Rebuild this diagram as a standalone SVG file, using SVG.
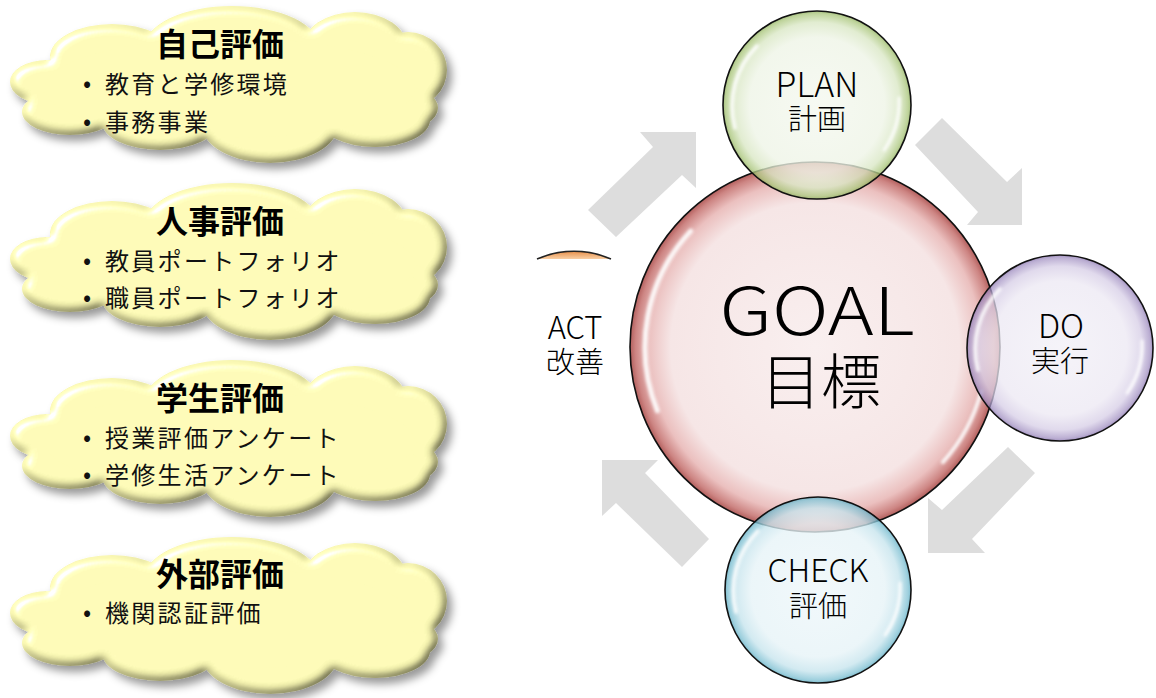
<svg xmlns="http://www.w3.org/2000/svg" xmlns:xlink="http://www.w3.org/1999/xlink" width="1156" height="698" viewBox="0 0 1156 698">
<style>
.ct{font-family:"Noto Sans CJK JP","Noto Sans",sans-serif;font-weight:bold;font-size:32px;fill:#000;text-anchor:middle}
.cb{font-family:"Noto Sans CJK JP","Noto Sans",sans-serif;font-size:24px;fill:#111;letter-spacing:2.3px}
.bu{font-family:"Noto Sans CJK JP","Noto Sans",sans-serif;font-size:24px;fill:#111}
.nt{font-family:"Noto Sans CJK JP","Noto Sans",sans-serif;font-weight:300;fill:#000;text-anchor:middle}
.arrow{fill:#dddddd}
.rim{fill:none;stroke:#111;stroke-width:1.6}
.hl{fill:none;stroke:#fff;stroke-linecap:round;filter:url(#soft)}
</style>
<defs>
<g id="cloudShape" fill="#f9f7b2">
<ellipse cx="47" cy="82" rx="37" ry="22"/>
<ellipse cx="70" cy="112" rx="48" ry="23"/>
<ellipse cx="112" cy="57" rx="62" ry="33"/>
<ellipse cx="232" cy="48" rx="88" ry="42"/>
<ellipse cx="355" cy="47" rx="52" ry="35"/>
<ellipse cx="408" cy="70" rx="39" ry="38"/>
<ellipse cx="400" cy="108" rx="38" ry="22"/>
<ellipse cx="375" cy="120" rx="55" ry="27"/>
<ellipse cx="270" cy="125" rx="68" ry="38"/>
<ellipse cx="160" cy="122" rx="58" ry="28"/>
<ellipse cx="230" cy="88" rx="185" ry="50"/>
</g>
<filter id="cloudFx" x="-8%" y="-12%" width="120%" height="135%">
<feGaussianBlur in="SourceAlpha" stdDeviation="4" result="b"/>
<feDiffuseLighting in="b" surfaceScale="6" diffuseConstant="1.16" lighting-color="#ffffff" result="d"><feDistantLight azimuth="225" elevation="60"/></feDiffuseLighting>
<feComposite in="SourceGraphic" in2="d" operator="arithmetic" k1="1" result="shaded"/>
<feSpecularLighting in="b" surfaceScale="6" specularConstant="1" specularExponent="30" lighting-color="#ffffff" result="s"><feDistantLight azimuth="225" elevation="40"/></feSpecularLighting>
<feComposite in="s" in2="SourceAlpha" operator="in" result="s2"/>
<feComposite in="shaded" in2="s2" operator="arithmetic" k2="1" k3="0.8" result="lit"/>
<feGaussianBlur in="SourceAlpha" stdDeviation="4" result="sb"/>
<feOffset in="sb" dx="5" dy="6" result="so"/>
<feFlood flood-color="#000" flood-opacity="0.4"/>
<feComposite in2="so" operator="in" result="shadow"/>
<feMerge><feMergeNode in="shadow"/><feMergeNode in="lit"/></feMerge>
</filter>
<filter id="soft" x="-20%" y="-20%" width="140%" height="140%"><feGaussianBlur stdDeviation="1.6"/></filter>
<radialGradient id="gGoal" cx="50%" cy="50%" r="50%">
<stop offset="0" stop-color="#f9efef"/><stop offset="0.78" stop-color="#f6e6e6"/><stop offset="0.9" stop-color="#ebc0bf"/><stop offset="0.97" stop-color="#cd8583"/><stop offset="1" stop-color="#b35f5d"/>
</radialGradient>
<radialGradient id="gPlan" cx="50%" cy="50%" r="50%">
<stop offset="0" stop-color="#f4f8ef"/><stop offset="0.72" stop-color="#eef4e6"/><stop offset="0.88" stop-color="#d9e7c4"/><stop offset="0.97" stop-color="#adc880"/><stop offset="1" stop-color="#8eae5c"/>
</radialGradient>
<radialGradient id="gDo" cx="50%" cy="50%" r="50%">
<stop offset="0" stop-color="#f2f0f7"/><stop offset="0.72" stop-color="#ece8f3"/><stop offset="0.88" stop-color="#d6cde6"/><stop offset="0.97" stop-color="#a594c4"/><stop offset="1" stop-color="#8670ad"/>
</radialGradient>
<radialGradient id="gCheck" cx="50%" cy="50%" r="50%">
<stop offset="0" stop-color="#eef7fa"/><stop offset="0.72" stop-color="#e6f3f7"/><stop offset="0.88" stop-color="#c6e4ed"/><stop offset="0.97" stop-color="#82c2d4"/><stop offset="1" stop-color="#5aaac0"/>
</radialGradient>
<linearGradient id="gAct" x1="0" y1="0" x2="0" y2="1">
<stop offset="0" stop-color="#e8904a"/><stop offset="1" stop-color="#f9cfa4"/>
</linearGradient>
</defs>

<g id="connectors">
<polygon class="arrow" points="588,210 653,147 640,132 696,132 696,188 682,175 616,237"/>
<polygon class="arrow" points="915,145 942,118 1007,182 1022,168 1022,225 967,225 978,212"/>
<polygon class="arrow" points="1008,447 1035,473 972,539 985,553 928,553 928,498 942,510"/>
<polygon class="arrow" points="602,460 658,460 645,473 709,539 682,567 616,503 602,516"/>
</g>

<g id="cloud-self">
<use href="#cloudShape" xlink:href="#cloudShape" filter="url(#cloudFx)"/>
<text class="ct" x="220" y="56">自己評価</text>
<text class="bu" x="83" y="92">•</text>
<text class="cb" x="105" y="93">教育と学修環境</text>
<text class="bu" x="83" y="130">•</text>
<text class="cb" x="105" y="131">事務事業</text>
</g>
<g id="cloud-hr">
<use href="#cloudShape" xlink:href="#cloudShape" transform="translate(0,177)" filter="url(#cloudFx)"/>
<text class="ct" x="220" y="233">人事評価</text>
<text class="bu" x="83" y="269">•</text>
<text class="cb" x="105" y="270">教員ポートフォリオ</text>
<text class="bu" x="83" y="306">•</text>
<text class="cb" x="105" y="307">職員ポートフォリオ</text>
</g>
<g id="cloud-student">
<use href="#cloudShape" xlink:href="#cloudShape" transform="translate(0,354)" filter="url(#cloudFx)"/>
<text class="ct" x="220" y="410">学生評価</text>
<text class="bu" x="83" y="446">•</text>
<text class="cb" x="105" y="447">授業評価アンケート</text>
<text class="bu" x="83" y="483">•</text>
<text class="cb" x="105" y="484">学修生活アンケート</text>
</g>
<g id="cloud-external">
<use href="#cloudShape" xlink:href="#cloudShape" transform="translate(0,531)" filter="url(#cloudFx)"/>
<text class="ct" x="220" y="586">外部評価</text>
<text class="bu" x="83" y="621">•</text>
<text class="cb" x="105" y="622">機関認証評価</text>
</g>

<g id="node-act">
<path d="M537 259 A93 93 0 0 1 611 259 Z" fill="url(#gAct)"/>
<path d="M537 259 A93 93 0 0 1 611 259" fill="none" stroke="#222" stroke-width="1.5"/>
<text class="nt"><tspan x="575" y="339" font-size="31">ACT</tspan><tspan x="575" y="373" font-size="29">改善</tspan></text>
</g>

<g id="node-goal">
<circle cx="815" cy="347" r="185" fill="url(#gGoal)"/>
<path class="hl" d="M690.7 231.1 A170 170 0 0 0 657.4 410.7" stroke-width="5" opacity="0.9"/>
<path class="hl" d="M981.1 391.5 A172 172 0 0 1 942.8 462.1" stroke-width="4" opacity="0.9"/>
<circle class="rim" cx="815" cy="347" r="185"/>
</g>

<g id="node-plan">
<circle cx="817" cy="105" r="94" fill="url(#gPlan)" fill-opacity="0.78"/>
<path class="hl" d="M757 46 A85 85 0 0 0 735 128" stroke-width="3.5" opacity="0.9"/>
<path class="hl" d="M899 98 A84 84 0 0 1 884 150" stroke-width="3" opacity="0.9"/>
<circle class="rim" cx="817" cy="105" r="94"/>
<text class="nt"><tspan x="817" y="97" font-size="34">PLAN</tspan><tspan x="817" y="130" font-size="29">計画</tspan></text>
</g>

<g id="node-do">
<circle cx="1060" cy="348" r="93" fill="url(#gDo)" fill-opacity="0.75"/>
<path class="hl" d="M1000 289 A85 85 0 0 0 978 370" stroke-width="3.5" opacity="0.9"/>
<path class="hl" d="M1142 341 A84 84 0 0 1 1127 393" stroke-width="3" opacity="0.9"/>
<circle class="rim" cx="1060" cy="348" r="93"/>
<text class="nt"><tspan x="1061" y="338" font-size="33">DO</tspan><tspan x="1060" y="372" font-size="29">実行</tspan></text>
</g>

<g id="node-check">
<circle cx="818" cy="590" r="93" fill="url(#gCheck)" fill-opacity="0.78"/>
<path class="hl" d="M758 531 A85 85 0 0 0 736 612" stroke-width="3.5" opacity="0.9"/>
<path class="hl" d="M900 583 A84 84 0 0 1 885 635" stroke-width="3" opacity="0.9"/>
<circle class="rim" cx="818" cy="590" r="93"/>
<text class="nt"><tspan x="818" y="582" font-size="32">CHECK</tspan><tspan x="818" y="617" font-size="29">評価</tspan></text>
</g>

<g id="goal-label">
<text class="nt"><tspan x="817" y="335" font-size="66" textLength="195" lengthAdjust="spacingAndGlyphs">GOAL</tspan><tspan x="821" y="404" font-size="60">目標</tspan></text>
</g>
</svg>
